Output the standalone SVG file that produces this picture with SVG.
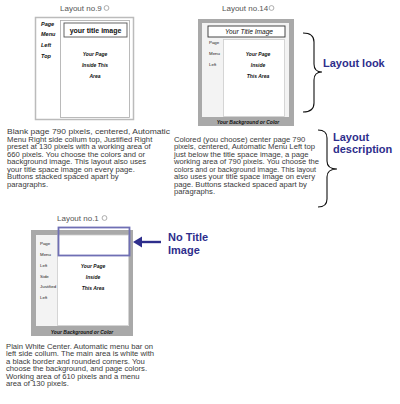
<svg xmlns="http://www.w3.org/2000/svg" width="400" height="404" viewBox="0 0 400 404">
<defs>
<style>
.cap{font-family:"Liberation Sans",Arial,sans-serif;font-size:8px;fill:#555}
.radio{fill:#fff;stroke:#999;stroke-width:0.8}
.para{font-family:"Liberation Sans",Arial,sans-serif;font-size:7.7px;fill:#3a3a3a}
.lbl9{font-family:"Liberation Sans",Arial,sans-serif;font-size:5.5px;font-weight:bold;font-style:italic;fill:#111}
.lbl{font-family:"Liberation Sans",Arial,sans-serif;font-size:4.4px;fill:#222}
.main{font-family:"Liberation Sans",Arial,sans-serif;font-size:5px;font-weight:bold;font-style:italic;fill:#111;text-anchor:middle}
.bg{font-family:"Liberation Sans",Arial,sans-serif;font-size:5px;font-weight:bold;font-style:italic;fill:#111;text-anchor:middle}
.blue{font-family:"Liberation Sans",Arial,sans-serif;font-size:11px;font-weight:bold;fill:#2e2e8c}
.gray{fill:#a9a9a9}
.brace{fill:none;stroke:#111;stroke-width:1.1}
</style>
</defs>

<g id="layout9">
<text class="cap" x="60" y="11">Layout no.9</text>
<circle class="radio" cx="106.5" cy="8" r="2.4"/>
<rect x="35.5" y="17.5" width="98" height="102" fill="#fff" stroke="#bbb" stroke-width="1.5"/>
<rect x="60.5" y="20.5" width="69" height="97" fill="#fff" stroke="#aaa" stroke-width="0.8"/>
<rect x="64" y="23" width="63" height="14" fill="#fff" stroke="#555" stroke-width="0.9"/>
<text x="95.5" y="32.5" font-family="Liberation Sans,Arial,sans-serif" font-size="7px" font-weight="bold" fill="#111" text-anchor="middle">your title image</text>
<text class="lbl9" x="41" y="25.5">Page</text>
<text class="lbl9" x="41" y="36">Menu</text>
<text class="lbl9" x="41" y="47">Left</text>
<text class="lbl9" x="41" y="58">Top</text>
<text class="main" x="95" y="56" font-size="5.5px">Your Page</text>
<text class="main" x="95" y="67" font-size="5.5px">Inside This</text>
<text class="main" x="95" y="78" font-size="5.5px">Area</text>
</g>

<g id="layout14">
<text class="cap" x="222" y="11">Layout no.14</text>
<circle class="radio" cx="271.5" cy="8" r="2.4"/>
<rect class="gray" x="198" y="19" width="96" height="107"/>
<rect x="202" y="23" width="87" height="94" fill="#f3f3f3"/>
<rect x="208" y="26" width="77" height="11" fill="#fff" stroke="#333" stroke-width="0.9"/>
<text x="249" y="34" font-family="Liberation Sans,Arial,sans-serif" font-size="6.6px" font-style="italic" fill="#111" text-anchor="middle">Your Title Image</text>
<rect x="223.5" y="39.5" width="61" height="77" fill="#fff" stroke="#ccc" stroke-width="0.8"/>
<text class="lbl" x="209" y="44">Page</text>
<text class="lbl" x="209" y="55">Menu</text>
<text class="lbl" x="209" y="66">Left</text>
<text class="main" x="258" y="56">Your Page</text>
<text class="main" x="258" y="67">Inside</text>
<text class="main" x="258" y="78">This Area</text>
<text class="bg" x="248" y="124">Your Background or Color</text>
</g>

<g id="layout1">
<text class="cap" x="57" y="221">Layout no.1</text>
<circle class="radio" cx="104.5" cy="218" r="2.4"/>
<rect class="gray" x="31" y="230" width="102" height="106"/>
<rect x="36" y="235" width="93" height="91" fill="#f3f3f3"/>
<rect x="57.5" y="235" width="71" height="90.5" fill="#fff" stroke="#ccc" stroke-width="0.8"/>
<rect x="58.5" y="227.5" width="71" height="28" fill="none" stroke="#6f6fb4" stroke-width="1.8"/>
<text class="lbl" x="40" y="245">Page</text>
<text class="lbl" x="40" y="256">Menu</text>
<text class="lbl" x="40" y="266.5">Left</text>
<text class="lbl" x="40" y="277.5">Side</text>
<text class="lbl" x="40" y="288">Justified</text>
<text class="lbl" x="40" y="299">Left</text>
<text class="main" x="93" y="268">Your Page</text>
<text class="main" x="93" y="279">Inside</text>
<text class="main" x="93" y="289.5">This Area</text>
<text class="bg" x="82" y="334">Your Background or Color</text>
</g>

<g id="para-left">
<text class="para" x="7" y="134" textLength="163" lengthAdjust="spacingAndGlyphs">Blank page 790 pixels, centered, Automatic</text>
<text class="para" x="7" y="141.5">Menu Right side collum top, Justified Right</text>
<text class="para" x="7" y="149">preset at 130 pixels with a working area of</text>
<text class="para" x="7" y="156.5">660 pixels. You choose the colors and or</text>
<text class="para" x="7" y="164">background image. This layout also uses</text>
<text class="para" x="7" y="171.5">your title space image on every page.</text>
<text class="para" x="7" y="179">Buttons stacked spaced apart by</text>
<text class="para" x="7" y="186.5">paragraphs.</text>
</g>

<g id="para-right">
<text class="para" x="174" y="141.5">Colored (you choose) center page 790</text>
<text class="para" x="174" y="149">pixels, centered, Automatic Menu Left top</text>
<text class="para" x="174" y="156.5">just below the title space image, a page</text>
<text class="para" x="174" y="164" textLength="145" lengthAdjust="spacingAndGlyphs">working area of 790 pixels. You choose the</text>
<text class="para" x="174" y="171.5" textLength="142" lengthAdjust="spacingAndGlyphs">colors and or background image. This layout</text>
<text class="para" x="174" y="179">also uses your title space image on every</text>
<text class="para" x="174" y="186.5">page. Buttons stacked spaced apart by</text>
<text class="para" x="174" y="194">paragraphs.</text>
</g>

<g id="para-bottom">
<text class="para" x="6" y="348.5">Plain White Center. Automatic menu bar on</text>
<text class="para" x="6" y="356">left side collum. The main area is white with</text>
<text class="para" x="6" y="363.5">a black border and rounded corners. You</text>
<text class="para" x="6" y="371">choose the background, and page colors.</text>
<text class="para" x="6" y="378.5">Working area of 610 pixels and a menu</text>
<text class="para" x="6" y="386">area of 130 pixels.</text>
</g>

<g id="label-look">
<text class="blue" x="323" y="67">Layout look</text>
</g>
<g id="label-desc">
<text class="blue" x="333" y="141">Layout</text>
<text class="blue" x="333" y="153">description</text>
</g>
<g id="label-notitle">
<text class="blue" x="168" y="241">No Title</text>
<text class="blue" x="168" y="254">Image</text>
</g>

<g id="connectors">
<path class="brace" d="M303,33 Q314,33 314,42 L314,64 Q314,72 322,72 Q314,72 314,80 L314,103 Q314,112 303,112"/>
<path class="brace" d="M318,130 Q327,130 327,138 L327,161 Q327,169 337,169 Q327,169 327,177 L327,199 Q327,207 318,207"/>
<line x1="140" y1="242" x2="161" y2="242" stroke="#2e2e8c" stroke-width="2.4"/>
<polygon points="133,242 142,236.5 142,247.5" fill="#2e2e8c"/>
</g>
</svg>
